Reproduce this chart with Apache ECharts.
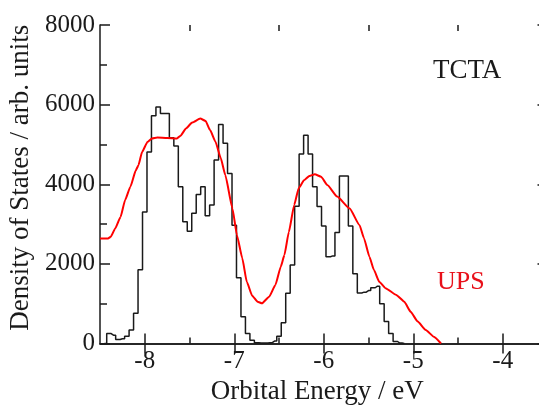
<!DOCTYPE html>
<html><head><meta charset="utf-8">
<script src="https://cdn.jsdelivr.net/npm/echarts@6/dist/echarts.min.js"></script>
<style>html,body{margin:0;padding:0;background:#fff}#c{width:539px;height:405px}</style>
</head><body><div id="c"></div>
<script>
// DOS histogram (bin centres, eV) and values
const histEnergy = [-8.45,-8.40,-8.35,-8.30,-8.25,-8.20,-8.15,-8.10,-8.05,-8.00,
  -7.95,-7.90,-7.85,-7.80,-7.75,-7.70,-7.65,-7.60,-7.55,-7.50,
  -7.45,-7.40,-7.35,-7.30,-7.25,-7.20,-7.15,-7.10,-7.05,-7.00,
  -6.95,-6.90,-6.85,-6.80,-6.75,-6.70,-6.65,-6.60,-6.55,-6.50,
  -6.45,-6.40,-6.35,-6.30,-6.25,-6.20,-6.15,-6.10,-6.05,-6.00,
  -5.95,-5.90,-5.85,-5.80,-5.75,-5.70,-5.65,-5.60,-5.55,-5.50,
  -5.45,-5.40,-5.35,-5.30,-5.25,-5.20,-5.15,-5.10];
const histValues = [0,250,210,100,120,180,340,760,1850,3300,
  4810,5720,5940,5780,5780,5170,4960,3940,3060,2820,
  3270,3740,3940,3210,3480,4610,5500,5030,4270,2970,
  1650,670,250,80,20,10,10,20,60,180,
  520,1260,1970,3450,4760,5230,4760,3940,3440,2950,
  2180,2200,2790,4210,4210,2950,1750,1270,1290,1330,
  1400,1440,1000,550,250,50,10,0];
// UPS curve
const upsEnergy = [-8.50,-8.41,-8.38,-8.33,-8.27,-8.22,-8.16,-8.10,-8.07,-8.03,
  -7.97,-7.92,-7.86,-7.75,-7.64,-7.60,-7.54,-7.47,-7.38,-7.32,
  -7.27,-7.21,-7.15,-7.10,-7.02,-6.97,-6.91,-6.86,-6.80,-6.74,
  -6.69,-6.61,-6.54,-6.48,-6.44,-6.39,-6.33,-6.28,-6.22,-6.16,
  -6.10,-6.03,-5.96,-5.85,-5.71,-5.60,-5.55,-5.49,-5.44,-5.38,
  -5.31,-5.19,-5.10,-5.03,-4.95,-4.86,-4.77,-4.69];
const upsValues = [2640,2640,2680,2890,3180,3600,3940,4350,4480,4810,
  5060,5150,5175,5160,5150,5220,5400,5550,5650,5590,
  5360,5070,4650,4230,3390,2720,2140,1550,1200,1050,
  1010,1175,1470,1930,2220,2800,3480,3900,4100,4210,
  4250,4190,3980,3690,3390,2970,2640,2180,1850,1550,
  1390,1220,1050,800,550,340,170,0];
const xMajorTicks = [-8,-7,-6,-5,-4];
const xMinorTicks = [-7.5,-6.5,-5.5,-4.5];

const FF = '"Liberation Serif", "Times New Roman", serif';
const AX = '#1a1a1a';
const chart = echarts.init(document.getElementById('c'), null, {renderer:'canvas'});
const gridRect = {left:100, top:25, width:447.5, height:318.5, outerBoundsMode:'none', containLabel:false};
const xBase = {type:'value', min:-8.5, max:-3.5, splitLine:{show:false}};
const lineStyle = {color:AX, width:1.5};
chart.setOption({
  animation:false,
  backgroundColor:'#fff',
  grid:[Object.assign({}, gridRect), Object.assign({}, gridRect)],
  xAxis:[
    Object.assign({}, xBase, {gridIndex:0, position:'bottom',
      axisLine:{show:true, lineStyle},
      axisTick:{show:true, inside:true, length:10, customValues:xMajorTicks, lineStyle},
      axisLabel:{show:true, customValues:xMajorTicks, formatter:v=>String(v), fontFamily:FF, fontSize:25, color:'#1a1a1a', margin:5},
      name:'Orbital Energy / eV', nameLocation:'middle', nameGap:35,
      nameTextStyle:{fontFamily:FF, fontSize:27, color:'#1a1a1a', padding:[0,13,0,0]}}),
    Object.assign({}, xBase, {gridIndex:0, position:'top',
      axisLine:{show:true, lineStyle},
      axisTick:{show:true, inside:true, length:10, customValues:xMajorTicks, lineStyle},
      axisLabel:{show:false}}),
    Object.assign({}, xBase, {gridIndex:1, position:'bottom',
      axisLine:{show:false},
      axisTick:{show:true, inside:true, length:6, customValues:xMinorTicks, lineStyle},
      axisLabel:{show:false}}),
    Object.assign({}, xBase, {gridIndex:1, position:'top',
      axisLine:{show:false},
      axisTick:{show:true, inside:true, length:6, customValues:xMinorTicks, lineStyle},
      axisLabel:{show:false}})
  ],
  yAxis:[
    {type:'value', gridIndex:0, position:'left', min:0, max:8000, interval:2000, splitLine:{show:false},
      axisLine:{show:true, lineStyle},
      axisTick:{show:true, inside:true, length:10, lineStyle},
      minorTick:{show:true, splitNumber:2, length:7, lineStyle},
      axisLabel:{fontFamily:FF, fontSize:25, color:'#1a1a1a', margin:5, formatter:v=>String(v)},
      name:'Density of States / arb. units', nameLocation:'middle', nameGap:66, nameRotate:90,
      nameTextStyle:{fontFamily:FF, fontSize:27, color:'#1a1a1a', padding:[0,0,0,13]}},
    {type:'value', gridIndex:0, position:'right', min:0, max:8000, interval:2000, splitLine:{show:false},
      axisLine:{show:true, lineStyle},
      axisTick:{show:true, inside:true, length:10, lineStyle},
      minorTick:{show:true, splitNumber:2, length:7, lineStyle},
      axisLabel:{show:false}},
    {type:'value', gridIndex:1, min:0, max:8000, show:false}
  ],
  series:[
    {type:'line', name:'DOS', xAxisIndex:0, yAxisIndex:0, step:'middle', symbol:'none',
      data:histEnergy.map((e,i)=>[e,histValues[i]]),
      lineStyle:{color:'#1a1a1a', width:1.5}},
    {type:'line', name:'UPS', xAxisIndex:0, yAxisIndex:0, smooth:0.15, smoothMonotone:'x', symbol:'none',
      data:upsEnergy.map((e,i)=>[e,upsValues[i]]),
      lineStyle:{color:'#ff0000', width:2}}
  ],
  graphic:[
    {type:'text', x:433, y:71, style:{text:'TCTA', font:'27px '+FF, fill:'#1a1a1a', verticalAlign:'middle'}},
    {type:'text', x:437, y:282, style:{text:'UPS', font:'26px '+FF, fill:'#e8101a', verticalAlign:'middle'}}
  ]
});
</script></body></html>
